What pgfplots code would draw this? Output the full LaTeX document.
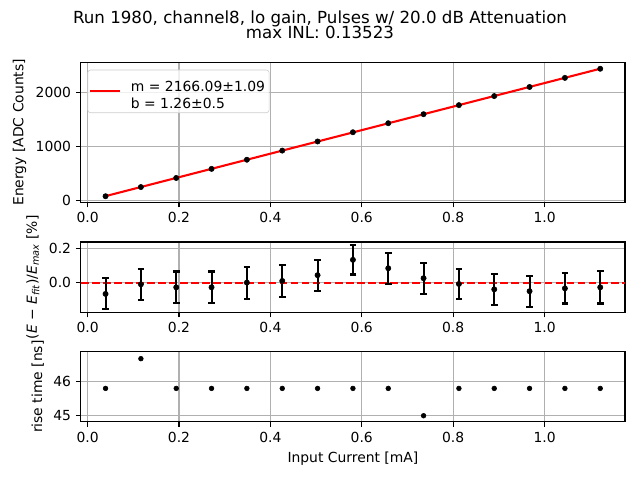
\documentclass[border=0pt]{standalone}
\usepackage{fontspec}
\setmainfont{DejaVu Sans}
\usepackage{pgfplots}
\pgfplotsset{compat=1.18}
\usepackage{pgfplotstable}

\pgfplotstableread{
x E r err t
0.0394 85.0 -0.067 0.092 45.79
0.1167 253.8 -0.010 0.093 46.65
0.1940 420.8 -0.028 0.094 45.79
0.2713 588.2 -0.028 0.094 45.79
0.3486 756.4 0.000 0.095 45.79
0.4260 924.2 0.010 0.096 45.79
0.5033 1092.5 0.044 0.092 45.79
0.5806 1262.2 0.135 0.087 45.79
0.6579 1428.4 0.085 0.092 45.79
0.7352 1594.4 0.026 0.092 45.00
0.8125 1761.0 -0.008 0.088 45.79
0.8898 1927.7 -0.040 0.092 45.79
0.9671 2094.9 -0.051 0.092 45.79
1.0444 2262.7 -0.034 0.090 45.79
1.1217 2430.3 -0.028 0.096 45.79
}\data

\pgfplotsset{
  myaxis/.style={
    scale only axis,
    width=391.8pt,
    anchor=south west,
    xmin=-0.0147, xmax=1.1759,
    xtick={0,0.2,0.4,0.6,0.8,1.0},
    xticklabel style={/pgf/number format/.cd, fixed, fixed zerofill, precision=1},
    /pgf/number format/assume math mode=true,
    font=\fontsize{10}{12}\selectfont,
    tick label style={font=\fontsize{10}{12}\selectfont},
    label style={font=\fontsize{10}{12}\selectfont},
    axis line style={line width=0.8pt},
    every tick/.style={line width=0.8pt, black},
    tick align=outside,
    major tick length=3.5pt,
    xtick pos=bottom, ytick pos=left,
    grid=major,
    major grid style={color=black!31, line width=0.8pt},
    clip=true,
  }
}

\begin{document}
\begin{tikzpicture}[x=1pt,y=1pt]
\path[use as bounding box] (0,0) rectangle (460.8,345.6);
\node[anchor=base, font=\fontsize{12}{14.4}\selectfont] at (230.4,329.0) {Run 1980, channel8, lo gain, Pulses w/ 20.0 dB Attenuation};
\node[anchor=base, font=\fontsize{12}{14.4}\selectfont] at (230.4,317.6) {max INL: 0.13523};

% top panel
\begin{axis}[myaxis,
  at={(58.2pt,199.8pt)}, height=100.9pt,
  ymin=-30.6, ymax=2548.2,
  ytick={0,1000,2000},
  yticklabel style={/pgf/number format/.cd, fixed, set thousands separator={}},
  ylabel={Energy [ADC Counts]},
  legend style={at={(0,1)}, anchor=north west, xshift=4.8pt, yshift=-5.3pt,
    draw=black!20, rounded corners=2pt, fill=white, fill opacity=0.8, text opacity=1,
    font=\fontsize{10}{12}\selectfont, inner xsep=1pt, inner ysep=5.4pt,
    column sep=5pt},
  legend cell align=left,
  legend image code/.code={\draw[#1] (0pt,0pt) -- (21.6pt,0pt);},
]
\addplot[red, line width=1.5pt] coordinates {(0.0394,86.6) (1.1217,2431.0)};
\addlegendentry{\begin{tabular}{@{}l@{}}m = 2166.09±1.09\\b = 1.26±0.5\end{tabular}}
\addplot[only marks, mark=*, mark size=1.9pt, black, forget plot] table[x=x, y=E] {\data};
\end{axis}

% middle panel
\begin{axis}[myaxis,
  at={(58.2pt,120.5pt)}, height=50.9pt,
  ymin=-0.178, ymax=0.241,
  ytick={0,0.2},
  yticklabel style={/pgf/number format/.cd, fixed, fixed zerofill, precision=1},
  ylabel={(\textit{E} − \textit{E}\textsubscript{\textit{fit}})/\textit{E}\textsubscript{\textit{max}} [\%]},
]
\addplot[red, line width=1.5pt, dash pattern=on 5.55pt off 2.4pt] coordinates {(-0.0147,0) (1.1759,0)};
\addplot[only marks, mark=*, mark size=1.9pt, black,
  error bars/.cd, y dir=both, y explicit,
  error bar style={line width=1.5pt, black},
  error mark options={rotate=90, mark size=2.4pt, line width=1.5pt, black}]
  table[x=x, y=r, y error=err] {\data};
\end{axis}

% bottom panel
\begin{axis}[myaxis,
  at={(58.2pt,41.8pt)}, height=50.9pt,
  ymin=44.82, ymax=46.865,
  ytick={45,46},
  ylabel={rise time [ns]},
  xlabel={Input Current [mA]},
]
\addplot[only marks, mark=*, mark size=1.7pt, black] table[x=x, y=t] {\data};
\end{axis}
\end{tikzpicture}
\end{document}
